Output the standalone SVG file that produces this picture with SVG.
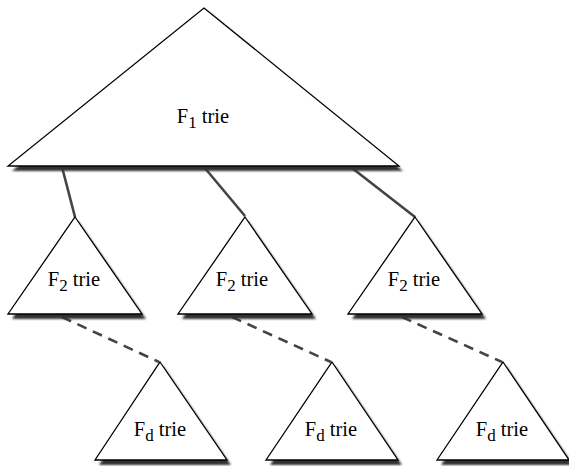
<svg xmlns="http://www.w3.org/2000/svg" width="569" height="466" viewBox="0 0 569 466">
<style>
.tri{fill:#fff;stroke:#000;stroke-width:1.3;stroke-linejoin:miter}
.sh{fill:#333;filter:url(#blur)}
.lbl{font-family:"Liberation Serif","DejaVu Serif",serif;font-size:20.5px;fill:#000}
.sub{font-size:17px}
.solid{stroke:#444;stroke-width:2.6;fill:none}
.dash{stroke:#444;stroke-width:2.6;fill:none;stroke-dasharray:10,7}
</style>
<defs>
<filter id="blur" x="-10%" y="-10%" width="120%" height="120%"><feGaussianBlur stdDeviation="0.8"/></filter>
</defs>
<g id="connectors">
<line class="solid" x1="62" y1="167" x2="75" y2="217"/>
<line class="solid" x1="204" y1="167" x2="245" y2="216"/>
<line class="solid" x1="352" y1="168" x2="415" y2="217"/>
<line class="dash" x1="62" y1="317" x2="159" y2="362"/>
<line class="dash" x1="232" y1="317" x2="331" y2="362"/>
<line class="dash" x1="402" y1="317" x2="502" y2="362"/>
</g>
<g id="f1">
<polygon class="sh" points="208,12 403,171 12,171"/>
<polygon class="tri" points="204,8 399,166 8,166"/>
<text class="lbl" x="203" y="123" text-anchor="middle">F<tspan class="sub" dy="5">1</tspan><tspan dy="-5"> trie</tspan></text>
</g>
<g id="f2a">
<polygon class="sh" points="78,221 146,319 12,319"/>
<polygon class="tri" points="75,217 142,314 8,314"/>
<text class="lbl" x="74" y="286" text-anchor="middle">F<tspan class="sub" dy="5">2</tspan><tspan dy="-5"> trie</tspan></text>
</g>
<g id="f2b">
<polygon class="sh" points="248,221 316,319 182,319"/>
<polygon class="tri" points="245,217 312,314 178,314"/>
<text class="lbl" x="242" y="286" text-anchor="middle">F<tspan class="sub" dy="5">2</tspan><tspan dy="-5"> trie</tspan></text>
</g>
<g id="f2c">
<polygon class="sh" points="418,221 486,319 352,319"/>
<polygon class="tri" points="415,217 482,314 348,314"/>
<text class="lbl" x="414" y="286" text-anchor="middle">F<tspan class="sub" dy="5">2</tspan><tspan dy="-5"> trie</tspan></text>
</g>
<g id="fda">
<polygon class="sh" points="163,366 231,465 99,465"/>
<polygon class="tri" points="160,362 227,460 95,460"/>
<text class="lbl" x="160" y="436" text-anchor="middle">F<tspan class="sub" dy="5">d</tspan><tspan dy="-5"> trie</tspan></text>
</g>
<g id="fdb">
<polygon class="sh" points="335,366 402,465 270,465"/>
<polygon class="tri" points="332,362 398,460 266,460"/>
<text class="lbl" x="331" y="436" text-anchor="middle">F<tspan class="sub" dy="5">d</tspan><tspan dy="-5"> trie</tspan></text>
</g>
<g id="fdc">
<polygon class="sh" points="506,366 573,465 441,465"/>
<polygon class="tri" points="503,362 569,460 437,460"/>
<text class="lbl" x="502" y="436" text-anchor="middle">F<tspan class="sub" dy="5">d</tspan><tspan dy="-5"> trie</tspan></text>
</g>
</svg>
